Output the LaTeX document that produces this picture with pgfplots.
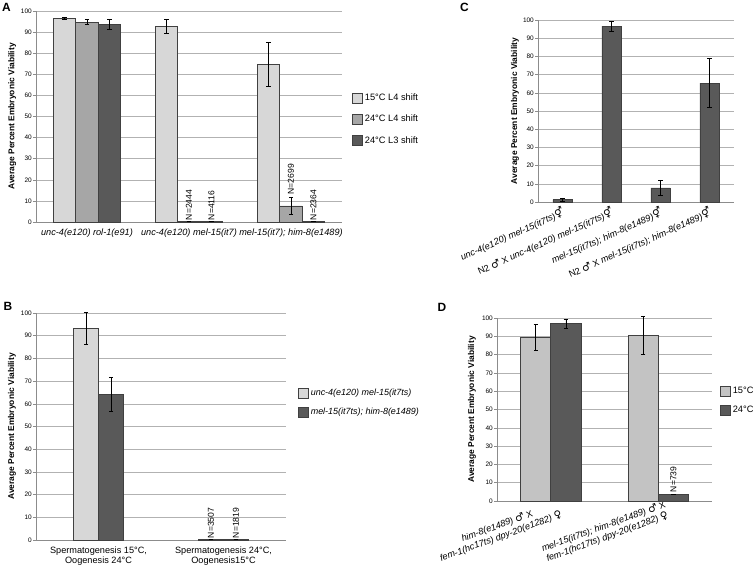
\documentclass[border=0pt]{standalone}
\usepackage{pgfplots}
\pgfplotsset{compat=1.18}
\usepackage{fontspec}
\setmainfont{Liberation Sans}
\newfontfamily\symfont{DejaVu Sans}
\newcommand{\sym}[1]{{\symfont\bfseries\fontsize{10.5}{10}\selectfont #1}}

\definecolor{lightbar}{HTML}{D7D7D7}
\definecolor{midbar}{HTML}{A6A6A6}
\definecolor{darkbar}{HTML}{595959}
\definecolor{lightbarD}{HTML}{C3C3C3}
\definecolor{gridc}{HTML}{B2B2B2}
\definecolor{axisc}{HTML}{8C8C8C}
\definecolor{edgec}{HTML}{404040}

\pgfplotsset{
  panel/.style={
    scale only axis, anchor=north west, clip=false,
    ybar, bar width=0.22, enlargelimits=false,
    axis x line*=bottom, axis y line*=left,
    axis line style={draw=axisc, line width=0.6bp, -},
    ymin=0, ymax=100, ytick={0,10,...,100},
    ymajorgrids, major grid style={draw=gridc, line width=0.6bp},
    tick align=outside, major tick length=3bp,
    ytick style={draw=axisc, line width=0.6bp},
    xtick style={draw=none},
    /pgf/number format/assume math mode=true,
    tick label style={font=\fontsize{9.2}{11}\selectfont},
    yticklabel style={inner sep=1bp, font=\fontsize{6.5}{8}\selectfont},
    ylabel={Average Percent Embryonic Viability},
    ylabel style={font=\bfseries\fontsize{8.45}{10}\selectfont, anchor=center},
    legend cell align=left,
    legend image code/.code={\draw[##1,line width=0.6bp] (0bp,-5bp) rectangle (10bp,5bp);},
    legend style={draw=none, fill=none, inner sep=0pt, anchor=north west,
      font=\fontsize{9.3}{11}\selectfont},
  },
  bars/.style={draw=edgec, line width=0.6bp, bar shift=0pt,
    error bars/y dir=both, error bars/y explicit,
    error bars/error mark options={rotate=90, mark size=2.2bp, line width=0.6bp, draw=black},
    error bars/error bar style={line width=0.6bp, draw=black}},
}
\tikzset{nlab/.style={rotate=90, anchor=west, inner sep=1bp, font=\fontsize{8.6}{10}\selectfont}}

\begin{document}
\begin{tikzpicture}
\path[use as bounding box] (0bp,0bp) rectangle (753bp,-567bp);
\node[font=\bfseries\fontsize{12}{12}\selectfont] at (6.5bp,-7.5bp) {A};
\node[font=\bfseries\fontsize{12}{12}\selectfont] at (8bp,-306.5bp) {B};
\node[font=\bfseries\fontsize{12}{12}\selectfont] at (464.5bp,-7.5bp) {C};
\node[font=\bfseries\fontsize{12}{12}\selectfont] at (442bp,-307bp) {D};

% Panel A
\begin{axis}[panel, at={(36bp,-11bp)}, width=306bp, height=211bp,
  xmin=-0.5, xmax=2.5, xtick={0,1,2},
  ylabel style={at={(axis description cs:-0.078,0.5)}},
  xticklabels={unc-4(e120) rol-1(e91), unc-4(e120) mel-15(it7), mel-15(it7); him-8(e1489)},
  xticklabel style={font=\itshape\fontsize{9.2}{11}\selectfont},
  legend style={at={(1.033,0.617)}, row sep=9bp}]
\addplot[bars, fill=lightbar] coordinates {(-0.22,96.5) +- (0,0.4) (0.78,92.7) +- (0,3.5) (1.78,74.8) +- (0,10.3)};
\addplot[bars, fill=midbar] coordinates {(0,94.7) +- (0,1.2) (1,0.3) +- (0,0) (2,7.6) +- (0,4.1)};
\addplot[bars, fill=darkbar] coordinates {(0.22,93.5) +- (0,2.4) (1.22,0.3) +- (0,0) (2.22,0.3) +- (0,0)};
\legend{15°C L4 shift, 24°C L4 shift, 24°C L3 shift}
\node[nlab] at (axis cs:1,0.3) {N=2444};
\node[nlab] at (axis cs:1.22,0.3) {N=4116};
\node[nlab] at (axis cs:2,12.5) {N=2699};
\node[nlab] at (axis cs:2.22,0.3) {N=2364};
\end{axis}

% Panel B
\begin{axis}[panel, at={(36bp,-313bp)}, width=250bp, height=227bp,
  xmin=-0.5, xmax=1.5, xtick={0,1}, bar width=0.2,
  ylabel style={at={(axis description cs:-0.096,0.5)}},
  xticklabels={{Spermatogenesis 15°C,\\Oogenesis 24°C},{Spermatogenesis 24°C,\\Oogenesis15°C}},
  xticklabel style={align=center, font=\fontsize{9.2}{10.5}\selectfont},
  legend style={at={(1.048,0.675)}, row sep=7bp, font=\itshape\fontsize{9}{11}\selectfont}]
\addplot[bars, fill=lightbar] coordinates {(-0.1,93.3) +- (0,7.0) (0.9,0.3) +- (0,0)};
\addplot[bars, fill=darkbar] coordinates {(0.1,64.2) +- (0,7.4) (1.1,0.3) +- (0,0)};
\legend{unc-4(e120) mel-15(it7ts), mel-15(it7ts); him-8(e1489)}
\node[nlab] at (axis cs:0.9,0.3) {N=3507};
\node[nlab] at (axis cs:1.1,0.3) {N=1819};
\end{axis}

% Panel C
\begin{axis}[panel, at={(538bp,-20bp)}, width=196bp, height=182bp,
  xmin=-0.5, xmax=3.5, xtick={0,1,2,3}, bar width=0.39,
  ylabel style={at={(axis description cs:-0.117,0.5)}},
  xticklabels={{\textit{unc-4(e120) mel-15(it7ts)}\sym{⚥}},
    {N2 \sym{♂} X \textit{unc-4(e120) mel-15(it7ts)}\sym{⚥}},
    {\textit{mel-15(it7ts); him-8(e1489)}\sym{⚥}},
    {N2 \sym{♂} X \textit{mel-15(it7ts); him-8(e1489)}\sym{⚥}}},
  xticklabel style={xshift=2bp, yshift=-6bp, rotate=24, anchor=east, inner sep=1bp}]
\addplot[bars, fill=darkbar] coordinates {(0,1.3) +- (0,0.9) (1,96.7) +- (0,2.8) (2,7.7) +- (0,4.2) (3,65.3) +- (0,13.5)};
\end{axis}

% Panel D
\begin{axis}[panel, at={(497bp,-318bp)}, width=215bp, height=183bp,
  xmin=-0.5, xmax=1.5, xtick={0,1}, bar width=0.28,
  ylabel style={at={(axis description cs:-0.116,0.5)}},
  xticklabels={{\textit{him-8(e1489)} \sym{♂} X\\\textit{fem-1(hc17ts) dpy-20(e1282)} \sym{♀}},
    {\textit{mel-15(it7ts); him-8(e1489)} \sym{♂} X\\\textit{fem-1(hc17ts) dpy-20(e1282)} \sym{♀}}},
  xticklabel style={xshift=10bp, yshift=-5bp, rotate=20, anchor=east, align=center, inner sep=1bp},
  legend style={at={(1.037,0.634)}, row sep=7bp}]
\addplot[bars, fill=lightbarD] coordinates {(-0.14,89.6) +- (0,7.2) (0.86,90.5) +- (0,10.5)};
\addplot[bars, fill=darkbar] coordinates {(0.14,96.9) +- (0,2.5) (1.14,3.5) +- (0,0)};
\legend{15°C, 24°C}
\node[nlab] at (axis cs:1.14,4.2) {N=739};
\end{axis}
\end{tikzpicture}
\end{document}
